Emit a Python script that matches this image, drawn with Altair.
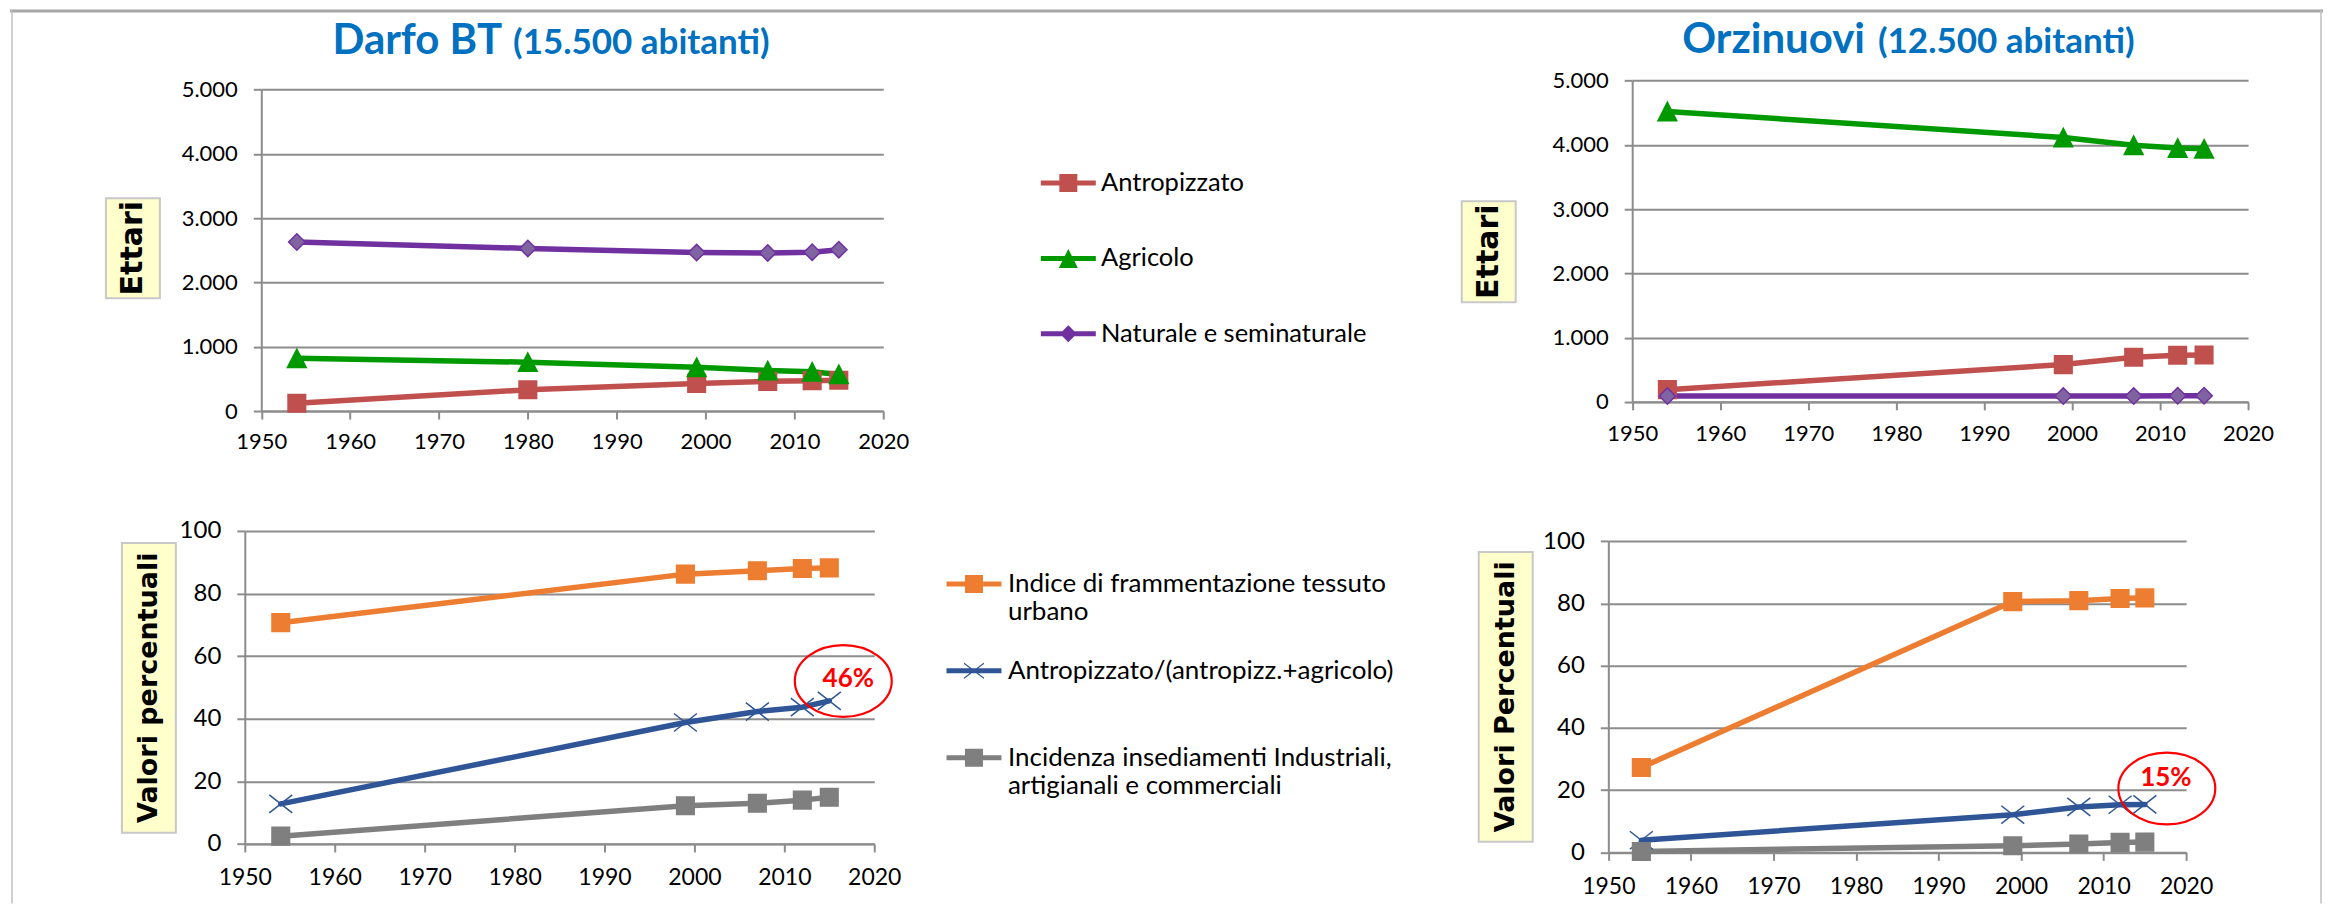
import altair as alt
import pandas as pd

# ------------------------------------------------------------------ data
anni_darfo_ettari = [1954, 1980, 1999, 2007, 2012, 2015]
darfo_antropizzato = [120, 330, 430, 462, 473, 480]
darfo_agricolo = [820, 760, 680, 630, 610, 570]
darfo_naturale = [2630, 2530, 2465, 2460, 2470, 2510]

anni_orzinuovi_ettari = [1954, 1999, 2007, 2012, 2015]
orzinuovi_antropizzato = [190, 580, 695, 725, 730]
orzinuovi_agricolo = [4520, 4115, 3995, 3950, 3940]
orzinuovi_naturale = [90, 90, 90, 95, 95]

anni_percentuali = [1954, 1999, 2007, 2012, 2015]
darfo_frammentazione = [70.7, 86.2, 87.3, 88.0, 88.2]
darfo_rapporto = [12.8, 38.8, 42.3, 43.7, 45.7]
darfo_industriali = [2.5, 12.2, 13.0, 14.0, 14.9]
orzinuovi_frammentazione = [27.3, 80.6, 80.9, 81.6, 81.8]
orzinuovi_rapporto = [3.9, 12.1, 14.6, 15.3, 15.4]
orzinuovi_industriali = [0.3, 2.1, 2.7, 3.2, 3.3]

serie_ettari = ["Antropizzato", "Agricolo", "Naturale e seminaturale"]
serie_percentuali = [
    "Indice di frammentazione tessuto urbano",
    "Antropizzato/(antropizz.+agricolo)",
    "Incidenza insediamenti Industriali, artigianali e commerciali",
]
righe_legenda_percentuali = [
    ["Indice di frammentazione tessuto", "urbano"],
    ["Antropizzato/(antropizz.+agricolo)"],
    ["Incidenza insediamenti Industriali,", "artigianali e commerciali"],
]

anni_tick = [1950, 1960, 1970, 1980, 1990, 2000, 2010, 2020]
ettari_tick = [0, 1000, 2000, 3000, 4000, 5000]
percentuali_tick = [0, 20, 40, 60, 80, 100]

comuni = ["Darfo BT", "Orzinuovi"]
abitanti = ["(15.500 abitanti)", "(12.500 abitanti)"]
titoli_asse = ["Ettari", "Ettari", "Valori percentuali", "Valori Percentuali"]
etichette_cerchio = ["46%", "15%"]


def tabella(anni, nomi, valori):
    righe = []
    for nome, serie in zip(nomi, valori):
        for a, v in zip(anni, serie):
            righe.append({"anno": a, "serie": nome, "valore": v})
    return pd.DataFrame(righe)


df_tl = tabella(anni_darfo_ettari, serie_ettari, [darfo_antropizzato, darfo_agricolo, darfo_naturale])
df_tr = tabella(anni_orzinuovi_ettari, serie_ettari, [orzinuovi_antropizzato, orzinuovi_agricolo, orzinuovi_naturale])
df_bl = tabella(anni_percentuali, serie_percentuali, [darfo_frammentazione, darfo_rapporto, darfo_industriali])
df_br = tabella(anni_percentuali, serie_percentuali, [orzinuovi_frammentazione, orzinuovi_rapporto, orzinuovi_industriali])

ann_bl = pd.DataFrame({"anno": [anni_percentuali[-1]], "valore": [darfo_rapporto[-1]], "etichetta": [etichette_cerchio[0]]})
ann_br = pd.DataFrame({"anno": [anni_percentuali[-1]], "valore": [orzinuovi_rapporto[-1]], "etichetta": [etichette_cerchio[1]]})

# ------------------------------------------------------------------ styles / geometry
FONT = "Lato"
GRID = "#8C8C8C"
W_L, W_R, H_T, H_B = 1150, 1165, 450, 445


def p_sq(h):
    return f"M{-h},{-h}H{h}V{h}H{-h}Z"


def p_tri(hw, hh):
    return f"M0,{-hh}L{hw},{hh}L{-hw},{hh}Z"


def p_dia(h):
    return f"M0,{-h}L{h},0L0,{h}L{-h},0Z"


def p_x(hw, hh):
    return f"M{-hw},{-hh}L{hw},{hh}M{-hw},{hh}L{hw},{-hh}"


def p_xfill(hw, hh, t):
    return (f"M{-hw},{-hh - t}L{hw},{hh - t}L{hw},{hh + t}L{-hw},{-hh + t}Z"
            f"M{-hw},{hh - t}L{hw},{-hh - t}L{hw},{-hh + t}L{-hw},{hh + t}Z")


def p_bar(L, t):
    return f"M{-L},{-t}H{L}V{t}H{-L}Z"


def p_ellipse(ry):
    k = 0.5523
    return (f"M1,0C1,{ry * k:.4f} {k},{ry} 0,{ry}C{-k},{ry} -1,{ry * k:.4f} -1,0"
            f"C-1,{-ry * k:.4f} {-k},{-ry} 0,{-ry}C{k},{-ry} 1,{-ry * k:.4f} 1,0Z")


BAR = p_bar(2.75, 0.25)
stile_ettari = {
    "linea": ["#C0504D", "#009900", "#7030A0"],
    "fill": ["#C0504D", "#009900", "#8064A2"],
    "stroke": ["#C0504D", "#009900", "#7030A0"],
    "forma": [p_sq(0.88), p_tri(0.94, 0.92), p_dia(0.82)],
    "leg_colore": ["#C0504D", "#009900", "#7030A0"],
    "leg_forma": [BAR + p_sq(0.9), BAR + p_tri(0.95, 0.95), BAR + p_dia(0.85)],
}
stile_percentuali = {
    "linea": ["#ED7D31", "#2F5597", "#7F7F7F"],
    "fill": ["#ED7D31", "transparent", "#7F7F7F"],
    "stroke": ["#ED7D31", "#2F5597", "#7F7F7F"],
    "forma": [p_sq(0.88), p_x(1.15, 0.9), p_sq(0.88)],
    "leg_colore": ["#ED7D31", "#2F5597", "#7F7F7F"],
    "leg_forma": [BAR + p_sq(0.9), BAR + p_xfill(1.0, 0.75, 0.08), BAR + p_sq(0.9)],
}

EXPR_MIGLIAIA = "replace(format(datum.value, ','), ',', '.')"
EXPR_INTERO = "format(datum.value, 'd')"

geo = {
    "TL": dict(W=W_L, H=H_T, x0=251.5, x1=874, y0=80.3, y1=402, xfs=22, yfs=22, xpad=12, ypad=16,
               yticks=ettari_tick, yexpr=EXPR_MIGLIAIA, box=(96, 150, 189, 289), afs=30,
               tx=492.5, ty=45, tgap=11, frame="left", top=True),
    "TR": dict(W=W_R, H=H_T, x0=473.6, x1=1090, y0=71.3, y1=392.8, xfs=22, yfs=22, xpad=14, ypad=16,
               yticks=ettari_tick, yexpr=EXPR_MIGLIAIA, box=(303, 357, 192, 293), afs=30,
               tx=706.6, ty=43.7, tgap=13, frame="right", top=True),
    "BL": dict(W=W_L, H=H_B, x0=235, x1=865, y0=72, y1=385.3, xfs=23, yfs=24, xpad=15, ypad=16,
               yticks=percentuali_tick, yexpr=EXPR_INTERO, box=(112, 166, 84, 374), afs=27,
               frame="left", top=False, ann=(14, -20, 19, -22)),
    "BR": dict(W=W_R, H=H_B, x0=449.7, x1=1028, y0=82.3, y1=393.7, xfs=23, yfs=24, xpad=15, ypad=16,
               yticks=percentuali_tick, yexpr=EXPR_INTERO, box=(320, 374, 93, 383), afs=27,
               frame="right", top=False, ann=(22, -16, 21, -26)),
}

leg_top = dict(orient="none", legendX=1046.5, legendY=161, direction="vertical", title=None,
               labelFont=FONT, labelFontSize=25.5, labelColor="black", labelLimit=1000,
               rowPadding=48.5, gridAlign="all", symbolSize=400, symbolStrokeWidth=0,
               labelOffset=20, padding=0)
leg_bottom = dict(orient="none", legendX=951.8, legendY=112, direction="vertical", title=None,
                  labelFont=FONT, labelFontSize=26, labelColor="black", labelLimit=1000,
                  rowPadding=33, gridAlign="all", symbolSize=400, symbolStrokeWidth=0,
                  labelOffset=21, padding=0)


def label_expr(nomi, righe):
    expr = "datum.label"
    for nome, r in zip(nomi, righe):
        if len(r) > 1:
            arr = "[" + ", ".join("'" + s + "'" for s in r) + "]"
            expr = f"datum.label == '{nome}' ? {arr} : " + expr
    return expr


leg_bottom["labelExpr"] = label_expr(serie_percentuali, righe_legenda_percentuali)


def panel(df, nomi, stile, g, titolo_asse, comune=None, sotto=None, legenda=None, ann=None):
    W, H = g["W"], g["H"]
    xs = alt.Scale(domain=[1950, 2020], range=[g["x0"], g["x1"]], nice=False, zero=False)
    ys = alt.Scale(domain=[0, g["yticks"][-1]], range=[g["y1"], g["y0"]], nice=False, zero=False)
    x_axis = alt.Axis(values=anni_tick, format="d", grid=False, domainColor=GRID, domainWidth=2,
                      tickColor=GRID, tickWidth=2, tickSize=8, labelFont=FONT, labelFontSize=g["xfs"],
                      labelColor="black", labelPadding=g["xpad"], labelFlush=False, labelOverlap=False,
                      offset=g["y1"] - H, title=None)
    y_axis = alt.Axis(values=g["yticks"], labelExpr=g["yexpr"], grid=True, gridColor=GRID, gridWidth=2,
                      domainColor=GRID, domainWidth=2, tickColor=GRID, tickWidth=2, tickSize=8,
                      labelFont=FONT, labelFontSize=g["yfs"], labelColor="black", labelPadding=g["ypad"],
                      labelOverlap=False, offset=-g["x0"], title=None)
    X = alt.X("anno:Q", scale=xs, axis=x_axis)
    Y = alt.Y("valore:Q", scale=ys, axis=y_axis)

    strati = []
    uno = pd.DataFrame({"t": [titolo_asse]})
    # frame of the slide
    if g["top"]:
        strati.append(alt.Chart(uno).mark_rule(color="#A6A6A6", strokeWidth=3).encode(
            x=alt.value(0), x2=alt.value(W), y=alt.value(1.5)))
    fx = 2 if g["frame"] == "left" else W - 2
    strati.append(alt.Chart(uno).mark_rule(color="#BFBFBF", strokeWidth=1.5).encode(
        x=alt.value(fx), y=alt.value(0), y2=alt.value(H)))
    # axis title box
    bx0, bx1, by0, by1 = g["box"]
    strati.append(alt.Chart(uno).mark_rect(fill="#FFFFCC", stroke="#C8C8C8", strokeWidth=2).encode(
        x=alt.value(bx0), x2=alt.value(bx1), y=alt.value(by0), y2=alt.value(by1)))
    strati.append(alt.Chart(uno).mark_text(angle=270, font="DejaVu Sans", fontWeight="bold",
                                           fontSize=g["afs"], color="black", align="center",
                                           baseline="middle").encode(
        x=alt.value((bx0 + bx1) / 2), y=alt.value((by0 + by1) / 2), text="t:N"))
    if comune:
        tdf = pd.DataFrame({"t": [comune], "s": [sotto]})
        strati.append(alt.Chart(tdf).mark_text(font=FONT, fontWeight="bold", fontSize=42, color="#0070C0",
                                               align="right", baseline="alphabetic").encode(
            x=alt.value(g["tx"]), y=alt.value(g["ty"]), text="t:N"))
        strati.append(alt.Chart(tdf).mark_text(font=FONT, fontWeight="bold", fontSize=35, color="#0070C0",
                                               align="left", baseline="alphabetic").encode(
            x=alt.value(g["tx"] + g["tgap"]), y=alt.value(g["ty"]), text="s:N"))

    base = alt.Chart(df)
    linee = base.mark_line(strokeWidth=5.5, strokeJoin="round", strokeCap="round").encode(
        X, Y, color=alt.Color("serie:N", scale=alt.Scale(domain=nomi, range=stile["linea"]), legend=None))
    punti = base.mark_point(opacity=1, strokeWidth=1.5, size=400).encode(
        X, Y,
        fill=alt.Fill("serie:N", scale=alt.Scale(domain=nomi, range=stile["fill"]), legend=None),
        stroke=alt.Stroke("serie:N", scale=alt.Scale(domain=nomi, range=stile["stroke"]), legend=None),
        shape=alt.Shape("serie:N", scale=alt.Scale(domain=nomi, range=stile["forma"]), legend=None))
    strati += [linee, punti]

    if ann is not None:
        dx, dy, tdx, tdy = g["ann"]
        strati.append(alt.Chart(ann).mark_point(shape=p_ellipse(0.74), size=9409, filled=False,
                                                stroke="#FF0000", strokeWidth=2.2, opacity=1,
                                                xOffset=dx, yOffset=dy).encode(X, Y))
        strati.append(alt.Chart(ann).mark_text(font=FONT, fontWeight="bold", fontSize=26, color="#FF0000",
                                               align="center", baseline="middle", dx=tdx, dy=tdy).encode(
            X, Y, text="etichetta:N"))

    if legenda is not None:
        leg = base.transform_filter("false").mark_point(filled=True, opacity=1, size=400).encode(
            color=alt.Color("serie:N", scale=alt.Scale(domain=nomi, range=stile["leg_colore"]),
                            legend=alt.Legend(**legenda)),
            shape=alt.Shape("serie:N", scale=alt.Scale(domain=nomi, range=stile["leg_forma"]),
                            legend=alt.Legend(**legenda)))
        strati.append(leg)

    return alt.layer(*strati).resolve_scale(color="independent", shape="independent").properties(
        width=W, height=H)


tl = panel(df_tl, serie_ettari, stile_ettari, geo["TL"], titoli_asse[0], comuni[0], abitanti[0], legenda=leg_top)
tr = panel(df_tr, serie_ettari, stile_ettari, geo["TR"], titoli_asse[1], comuni[1], abitanti[1])
bl = panel(df_bl, serie_percentuali, stile_percentuali, geo["BL"], titoli_asse[2], legenda=leg_bottom, ann=ann_bl)
br = panel(df_br, serie_percentuali, stile_percentuali, geo["BR"], titoli_asse[3], ann=ann_br)

RES = dict(x="independent", y="independent", color="independent", fill="independent",
           stroke="independent", shape="independent")
chart = (alt.concat(tl, tr, bl, br, columns=2, spacing=0, bounds="flush", align="each")
         .resolve_scale(**RES)
         .properties(padding=0, background="white")
         .configure_view(strokeWidth=0))

chart.save("out.html", embed_options={"renderer": "svg", "actions": False})
